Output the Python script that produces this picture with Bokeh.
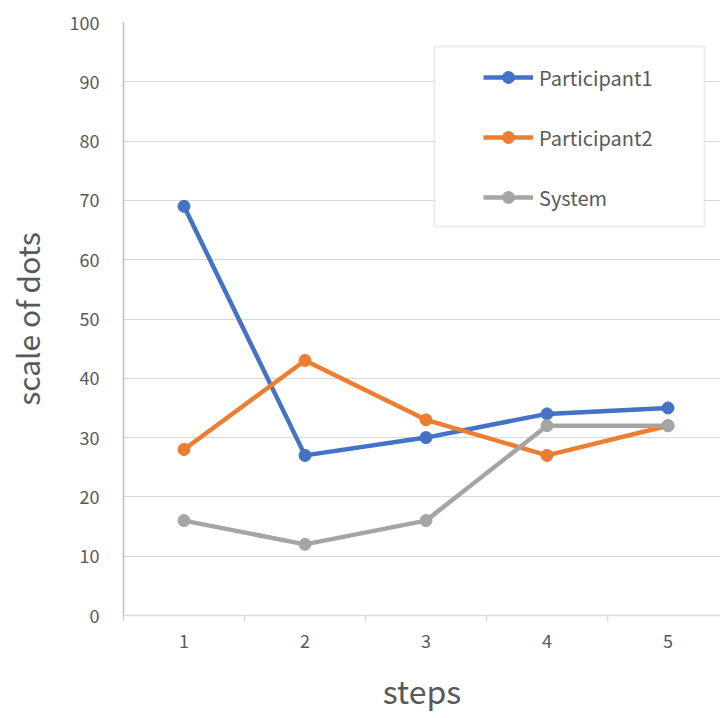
from bokeh.plotting import figure
from bokeh.models import (Range1d, FixedTicker, Legend, LegendItem, BoxAnnotation,
                          ColumnDataSource)
from bokeh.embed import file_html
from bokeh.resources import INLINE

# --- data ---
steps = [1, 2, 3, 4, 5]
participant1 = [69, 27, 30, 34, 35]
participant2 = [28, 43, 33, 27, 32]
system = [16, 12, 16, 32, 32]
y_ticks = [0, 10, 20, 30, 40, 50, 60, 70, 80, 90, 100]

series = [
    ("Participant1", participant1, "#4472C4"),
    ("Participant2", participant2, "#ED7D31"),
    ("System", system, "#A5A5A5"),
]

FONT = "Noto Sans CJK JP"
TEXT = "#595959"

p = figure(width=720, height=718, output_backend="svg", toolbar_location=None,
           x_range=Range1d(0.5, 0.5 + 597 / 121.0), y_range=Range1d(0, 100),
           min_border_left=123, min_border_right=0, min_border_top=22,
           min_border_bottom=103)
p.outline_line_color = None
p.background_fill_color = "white"
p.border_fill_color = "white"

# grid
p.xgrid.grid_line_color = None
p.ygrid.grid_line_color = "#D9D9D9"
p.ygrid.grid_line_width = 1
p.ygrid.ticker = FixedTicker(ticks=y_ticks)

# x axis
xa = p.xaxis[0]
xa.ticker = FixedTicker(ticks=steps, minor_ticks=[0.5, 1.5, 2.5, 3.5, 4.5, 5.5])
xa.axis_line_color = "#D9D9D9"
xa.axis_line_width = 1.5
xa.major_tick_line_color = None
xa.minor_tick_line_color = "#D9D9D9"
xa.minor_tick_line_width = 1.5
xa.minor_tick_out = 6
xa.minor_tick_in = 0
xa.major_label_text_font = FONT
xa.major_label_text_font_size = "18px"
xa.major_label_text_color = TEXT
xa.major_label_standoff = 12
xa.axis_label = "steps"
xa.axis_label_text_font = FONT
xa.axis_label_text_font_size = "32px"
xa.axis_label_text_font_style = "normal"
xa.axis_label_text_color = TEXT
xa.axis_label_standoff = 16

# y axis
ya = p.yaxis[0]
ya.ticker = FixedTicker(ticks=y_ticks)
ya.axis_line_color = "#BFBFBF"
ya.axis_line_width = 1.5
ya.major_tick_line_color = None
ya.minor_tick_line_color = None
ya.major_label_text_font = FONT
ya.major_label_text_font_size = "18px"
ya.major_label_text_color = TEXT
ya.major_label_standoff = 18
ya.axis_label = "scale of dots"
ya.axis_label_text_font = FONT
ya.axis_label_text_font_size = "30px"
ya.axis_label_text_font_style = "normal"
ya.axis_label_text_color = TEXT
ya.axis_label_standoff = 18

# legend frame (screen units measured from the frame's lower-left corner)
frame = BoxAnnotation(left=311, right=581, top=569, bottom=389,
                      left_units="screen", right_units="screen",
                      top_units="screen", bottom_units="screen",
                      fill_color="white", fill_alpha=1.0,
                      line_color="#BFBFBF", line_width=2, level="annotation")
p.add_layout(frame)

items = []
for name, vals, color in series:
    src = ColumnDataSource(dict(x=steps, y=vals))
    ln = p.line("x", "y", source=src, line_color=color, line_width=4.5)
    sc = p.scatter("x", "y", source=src, size=12, fill_color=color,
                   line_color=color)
    items.append(LegendItem(label=name, renderers=[ln, sc]))

legend = Legend(items=items, location=(360, 403), padding=0, margin=0,
                glyph_width=50, glyph_height=30, label_height=20,
                spacing=30, label_standoff=6,
                label_text_font=FONT, label_text_font_size="20px",
                label_text_color=TEXT,
                border_line_color=None, background_fill_alpha=0)
p.add_layout(legend, "center")

open("out.html", "w").write(file_html(p, INLINE))
